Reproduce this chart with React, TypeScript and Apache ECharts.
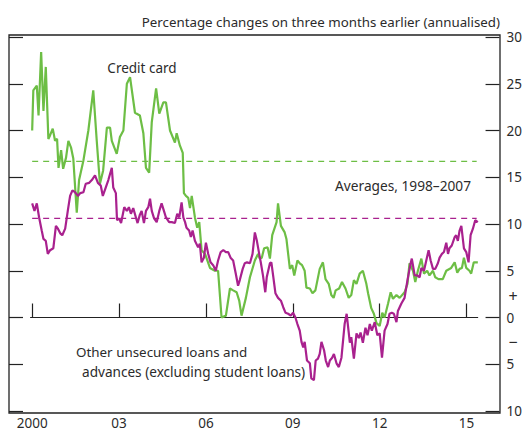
import React, { useEffect, useRef } from "react";
import * as echarts from "echarts";

const TITLE = "Percentage changes on three months earlier (annualised)";
const xTickValues = [2000, 2003, 2006, 2009, 2012, 2015];

// Credit card, percentage change on three months earlier (annualised): [year, value]
const creditCard: number[][] = [
  [2000.0, 20.0], [2000.04, 24.3], [2000.16, 24.8], [2000.22, 21.6], [2000.31, 28.4], [2000.39, 22.1],
  [2000.47, 26.8], [2000.56, 19.1], [2000.62, 19.5], [2000.71, 20.2], [2000.79, 18.9], [2000.86, 19.1],
  [2000.91, 16.0], [2001.0, 17.9], [2001.07, 15.9], [2001.17, 17.1], [2001.25, 18.9], [2001.34, 18.2],
  [2001.42, 17.0], [2001.54, 11.2], [2001.62, 14.7], [2001.77, 16.8], [2001.94, 20.0], [2002.11, 24.3],
  [2002.23, 18.9], [2002.34, 14.3], [2002.45, 15.7], [2002.58, 20.3], [2002.69, 20.3], [2002.75, 18.9],
  [2002.92, 17.5], [2003.03, 19.3], [2003.15, 20.0], [2003.27, 25.0], [2003.38, 25.7], [2003.55, 21.9],
  [2003.72, 21.6], [2003.84, 19.7], [2003.93, 16.0], [2004.04, 15.5], [2004.13, 20.9], [2004.28, 24.5],
  [2004.39, 21.8], [2004.53, 23.0], [2004.62, 23.0], [2004.76, 20.0], [2004.93, 18.7], [2004.99, 19.7],
  [2005.1, 18.4], [2005.2, 17.6], [2005.24, 13.3], [2005.31, 13.0], [2005.39, 12.8], [2005.45, 11.7],
  [2005.51, 13.0], [2005.62, 10.7], [2005.7, 9.6], [2005.77, 10.2], [2005.85, 7.2], [2005.97, 6.8],
  [2006.14, 5.3], [2006.31, 5.0], [2006.42, 5.0], [2006.54, 0.0], [2006.69, 0.2], [2006.83, 3.1],
  [2006.94, 2.9], [2007.06, 2.7], [2007.15, 1.8], [2007.23, 0.2], [2007.38, 2.1], [2007.52, 4.3],
  [2007.69, 6.1], [2007.8, 6.8], [2007.86, 6.3], [2007.93, 6.4], [2008.01, 7.4], [2008.13, 7.5],
  [2008.21, 6.3], [2008.29, 8.8], [2008.44, 10.2], [2008.49, 12.2], [2008.59, 9.8], [2008.72, 9.1],
  [2008.78, 8.4], [2008.9, 5.2], [2008.98, 5.6], [2009.05, 4.5], [2009.16, 6.1], [2009.24, 5.8],
  [2009.32, 5.6], [2009.41, 5.0], [2009.47, 3.2], [2009.59, 3.1], [2009.68, 2.6], [2009.78, 2.9],
  [2009.93, 5.2], [2010.04, 5.9], [2010.13, 4.1], [2010.24, 3.6], [2010.33, 2.4], [2010.41, 2.1],
  [2010.48, 2.9], [2010.6, 3.1], [2010.7, 3.8], [2010.82, 3.1], [2010.93, 2.1], [2011.02, 2.4],
  [2011.11, 4.0], [2011.2, 3.6], [2011.31, 4.7], [2011.42, 5.0], [2011.54, 3.6], [2011.6, 2.6],
  [2011.71, 1.0], [2011.8, 0.4], [2011.89, -0.6], [2012.0, -0.9], [2012.09, 0.5], [2012.17, 0.0],
  [2012.29, 1.5], [2012.38, 2.7], [2012.46, 2.0], [2012.58, 2.4], [2012.69, 2.1], [2012.86, 2.7],
  [2012.96, 3.6], [2013.03, 5.8], [2013.15, 5.0], [2013.23, 3.8], [2013.32, 5.0], [2013.44, 6.3],
  [2013.53, 4.7], [2013.64, 5.0], [2013.72, 4.5], [2013.84, 5.0], [2013.92, 4.3], [2014.03, 4.1],
  [2014.18, 4.1], [2014.3, 5.0], [2014.47, 5.3], [2014.59, 5.9], [2014.68, 4.8], [2014.76, 5.2],
  [2014.84, 5.3], [2014.91, 6.4], [2014.99, 5.3], [2015.1, 5.0], [2015.16, 4.7], [2015.25, 5.9],
  [2015.39, 5.9],
];

// Other unsecured loans and advances (excluding student loans): [year, value]
const otherUnsecured: number[][] = [
  [2000.0, 12.2], [2000.08, 11.4], [2000.16, 12.2], [2000.24, 10.7], [2000.33, 9.3], [2000.39, 8.4],
  [2000.47, 8.2], [2000.54, 6.8], [2000.62, 7.2], [2000.73, 7.4], [2000.82, 9.8], [2000.89, 9.5],
  [2000.97, 9.0], [2001.04, 8.8], [2001.14, 9.5], [2001.23, 11.4], [2001.31, 13.0], [2001.39, 13.6],
  [2001.48, 13.4], [2001.58, 13.0], [2001.66, 13.3], [2001.77, 13.4], [2001.85, 14.3], [2001.97, 14.4],
  [2002.06, 14.7], [2002.17, 15.2], [2002.27, 14.4], [2002.37, 14.1], [2002.44, 13.0], [2002.54, 13.9],
  [2002.63, 14.7], [2002.75, 16.0], [2002.8, 13.9], [2002.89, 13.3], [2002.93, 10.4], [2003.0, 10.6],
  [2003.07, 10.1], [2003.18, 11.8], [2003.27, 11.4], [2003.34, 11.8], [2003.41, 11.1], [2003.49, 11.7],
  [2003.61, 10.4], [2003.64, 10.1], [2003.72, 11.0], [2003.78, 11.4], [2003.86, 10.1], [2003.93, 11.4],
  [2004.01, 11.8], [2004.07, 12.7], [2004.13, 11.4], [2004.21, 10.6], [2004.3, 10.2], [2004.39, 11.4],
  [2004.47, 12.2], [2004.55, 11.4], [2004.62, 10.7], [2004.73, 10.2], [2004.82, 10.2], [2004.93, 10.1],
  [2005.01, 11.1], [2005.08, 10.7], [2005.16, 12.3], [2005.22, 10.7], [2005.28, 10.2], [2005.33, 9.6],
  [2005.42, 9.3], [2005.48, 8.6], [2005.54, 9.3], [2005.62, 8.2], [2005.73, 7.5], [2005.79, 7.9],
  [2005.85, 5.9], [2005.93, 6.4], [2006.0, 8.0], [2006.08, 6.8], [2006.16, 5.9], [2006.25, 5.6],
  [2006.34, 5.0], [2006.42, 6.1], [2006.51, 7.0], [2006.6, 7.2], [2006.69, 7.0], [2006.77, 7.0],
  [2006.85, 6.4], [2006.94, 6.1], [2007.03, 4.7], [2007.11, 3.4], [2007.17, 4.0], [2007.27, 5.2],
  [2007.34, 5.8], [2007.42, 5.9], [2007.52, 5.8], [2007.61, 6.8], [2007.69, 9.1], [2007.76, 8.2],
  [2007.84, 6.8], [2007.9, 5.8], [2007.97, 4.5], [2008.05, 2.7], [2008.1, 4.3], [2008.21, 5.8],
  [2008.26, 5.9], [2008.32, 4.5], [2008.4, 2.6], [2008.49, 2.1], [2008.59, 1.8], [2008.67, 1.1],
  [2008.75, 0.5], [2008.84, 0.4], [2008.93, 0.2], [2009.01, 0.5], [2009.09, 0.0], [2009.16, -0.7],
  [2009.24, -1.4], [2009.3, -2.6], [2009.36, -3.2], [2009.41, -2.6], [2009.49, -4.6], [2009.59, -4.9],
  [2009.64, -6.5], [2009.73, -6.7], [2009.79, -4.6], [2009.87, -4.4], [2009.93, -3.9], [2009.99, -2.6],
  [2010.08, -3.5], [2010.14, -4.6], [2010.22, -5.3], [2010.28, -4.6], [2010.36, -4.3], [2010.42, -3.9],
  [2010.51, -4.9], [2010.59, -5.3], [2010.68, -4.3], [2010.79, -0.7], [2010.86, 0.4], [2010.97, -2.7],
  [2011.02, -2.1], [2011.11, -4.4], [2011.2, -1.7], [2011.28, -2.2], [2011.34, -1.6], [2011.42, -2.7],
  [2011.51, -1.1], [2011.58, -1.9], [2011.66, -0.7], [2011.73, -1.4], [2011.83, -0.5], [2011.92, -1.9],
  [2012.0, -1.7], [2012.08, -4.3], [2012.17, -1.4], [2012.27, -0.7], [2012.34, 0.4], [2012.42, 0.5],
  [2012.49, 0.4], [2012.58, -0.5], [2012.63, 0.7], [2012.75, 1.5], [2012.86, 2.1], [2012.96, 4.0],
  [2013.07, 5.8], [2013.11, 6.3], [2013.21, 4.5], [2013.3, 4.5], [2013.38, 4.3], [2013.44, 5.3],
  [2013.53, 5.0], [2013.61, 6.1], [2013.69, 7.2], [2013.76, 6.1], [2013.84, 5.2], [2013.92, 5.2],
  [2014.01, 5.8], [2014.07, 6.4], [2014.15, 6.8], [2014.22, 7.0], [2014.3, 8.0], [2014.36, 6.8],
  [2014.41, 7.4], [2014.49, 7.7], [2014.59, 8.6], [2014.64, 8.8], [2014.7, 8.2], [2014.76, 9.3],
  [2014.82, 9.8], [2014.91, 7.4], [2014.99, 7.0], [2015.07, 5.9], [2015.14, 8.8], [2015.22, 9.5],
  [2015.3, 10.4], [2015.39, 10.2],
];

// Averages, 1998–2007
const creditCardAverage = 16.7;
const otherUnsecuredAverage = 10.6;
const avgLineYears = [2000.0, 2015.35];
// Zero line extent
const zeroLineYears = [1999.93, 2015.4];

const GREEN = "#6dbe45";
const PURPLE = "#a9218e";
const TEXT = "#2b2b2b";
const FONT = "'Noto Sans', 'Open Sans', sans-serif";

export default function App() {
  const ref = useRef<HTMLDivElement>(null);

  useEffect(() => {
    if (!ref.current) return;
    const chart = echarts.init(ref.current, undefined, { renderer: "svg" });

    const yAxisCommon = {
      type: "value" as const,
      min: -10,
      max: 30,
      interval: 5,
      splitLine: { show: false },
      axisLine: { show: false },
      axisTick: { show: true, inside: true, length: 14, lineStyle: { color: "#222", width: 1.2 } },
    };

    const textStyle = (text: string, align: string, size: number) => ({
      text,
      fill: TEXT,
      font: `${size}px ${FONT}`,
      textAlign: align,
      textVerticalAlign: "middle",
    });

    const flatLine = (name: string, years: number[], value: number, color: string, dashed: boolean, z: number) => ({
      name,
      type: "line",
      data: years.map((y) => [y, value]),
      showSymbol: false,
      silent: true,
      lineStyle: { color, width: 1.2, type: dashed ? [6, 5] : "solid" },
      itemStyle: { color },
      z,
    });

    chart.setOption({
      animation: false,
      textStyle: { fontFamily: FONT },
      grid: { left: 9, right: 25, top: 37, bottom: 21, containLabel: false },
      xAxis: {
        type: "value",
        min: 1999.2,
        max: 2016.14,
        splitLine: { show: false },
        axisLine: { show: false },
        axisTick: {
          show: true,
          inside: true,
          length: 14,
          customValues: xTickValues,
          lineStyle: { color: "#222", width: 1.2 },
        },
        axisLabel: {
          customValues: xTickValues,
          color: TEXT,
          fontSize: 13.5,
          fontFamily: FONT,
          margin: 5,
          formatter: (v: number) => (v === 2000 ? "2000" : String(v % 100).padStart(2, "0")),
        },
      },
      yAxis: [
        {
          ...yAxisCommon,
          position: "right",
          axisLabel: {
            color: TEXT,
            fontSize: 13.5,
            fontFamily: FONT,
            margin: 7,
            formatter: (v: number) => String(Math.abs(v)),
          },
        },
        {
          ...yAxisCommon,
          position: "left",
          axisLabel: { show: false },
        },
      ],
      graphic: [
        {
          type: "rect",
          shape: { x: 9, y: 35, width: 491, height: 378 },
          style: { fill: "none", stroke: "#222", lineWidth: 1.3 },
          z: 10,
        },
        { type: "text", x: 500, y: 22, style: textStyle(TITLE, "right", 13.3) },
        { type: "text", x: 142, y: 68, style: textStyle("Credit card", "center", 13.5) },
        { type: "text", x: 471, y: 185, style: textStyle("Averages, 1998–2007", "right", 13.7) },
        { type: "text", x: 76, y: 352, style: textStyle("Other unsecured loans and", "left", 13.4) },
        { type: "text", x: 82, y: 371, style: textStyle("advances (excluding student loans)", "left", 13.6) },
        { type: "text", x: 513, y: 296, style: textStyle("+", "center", 16) },
        { type: "text", x: 513, y: 342, style: textStyle("−", "center", 16) },
      ],
      series: [
        flatLine("Zero", zeroLineYears, 0, "#222", false, 1),
        flatLine("Credit card average, 1998–2007", avgLineYears, creditCardAverage, GREEN, true, 2),
        flatLine("Other unsecured average, 1998–2007", avgLineYears, otherUnsecuredAverage, PURPLE, true, 2),
        {
          name: "Credit card",
          type: "line",
          data: creditCard,
          showSymbol: false,
          lineStyle: { color: GREEN, width: 2.2 },
          itemStyle: { color: GREEN },
          z: 3,
        },
        {
          name: "Other unsecured loans and advances (excluding student loans)",
          type: "line",
          data: otherUnsecured,
          showSymbol: false,
          lineStyle: { color: PURPLE, width: 2.2 },
          itemStyle: { color: PURPLE },
          z: 4,
        },
      ],
    });

    return () => chart.dispose();
  }, []);

  return (
    <div
      ref={ref}
      style={{ position: "fixed", left: 0, top: 0, width: 525, height: 432, background: "#fff" }}
    />
  );
}
